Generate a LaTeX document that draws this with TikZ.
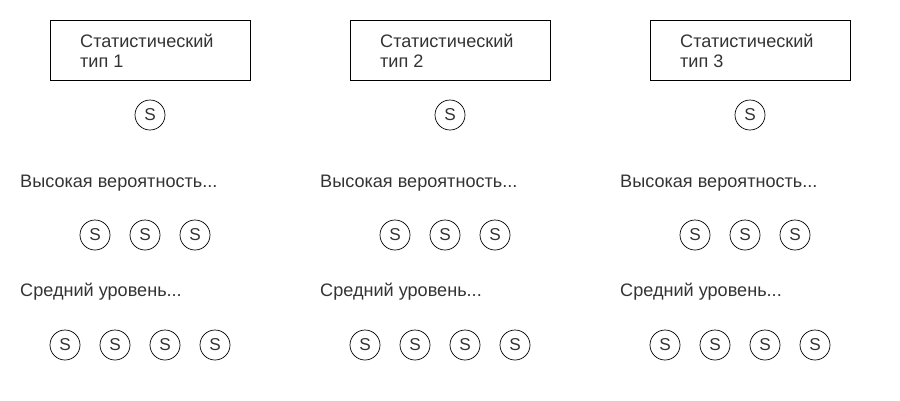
\documentclass[tikz,border=0pt]{standalone}
\usepackage{fontspec}
\setmainfont{Liberation Sans}
\definecolor{txt}{HTML}{333333}
\begin{document}
\begin{tikzpicture}[x=1pt,y=-1pt,
  typebox/.style={draw=black,line width=0.8pt,minimum width=200pt,minimum height=60pt,inner sep=0pt,anchor=north west},
  snode/.style={circle,draw=black,line width=0.7pt,minimum size=30pt,inner sep=0pt,font=\fontsize{17.2pt}{20pt}\selectfont,text=txt},
  lbl/.style={anchor=base west,inner sep=0pt,font=\fontsize{18.1pt}{21pt}\selectfont,text=txt}]
\useasboundingbox (0,0) rectangle (900,400);
\foreach \c/\k in {0/1,300/2,600/3}{
  \node[typebox] (box\k) at (50+\c,20) {};
  \node[lbl] (t\k a) at (80+\c,47) {Статистический};
  \node[lbl] (t\k b) at (80+\c,67.3) {тип \k};
  \node[snode] (s\k) at (150+\c,115) {S};
  \node[lbl] (hi\k) at (20+\c,187.5) {Высокая вероятность...};
  \foreach \i in {1,2,3}{
    \node[snode] (h\k\i) at (45+50*\i+\c,235) {S};
  }
  \node[lbl] (mid\k) at (20+\c,296.5) {Средний уровень...};
  \foreach \i in {1,2,3,4}{
    \node[snode] (m\k\i) at (15+50*\i+\c,345) {S};
  }
}
\end{tikzpicture}
\end{document}
